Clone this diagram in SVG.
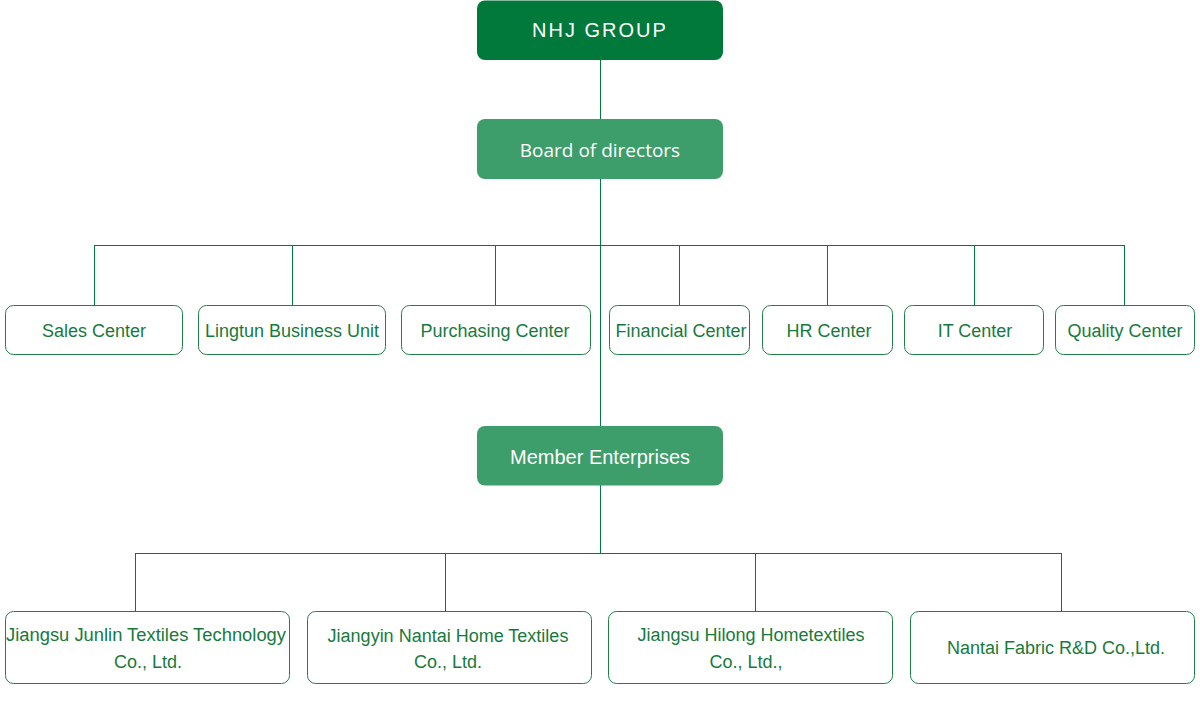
<svg xmlns="http://www.w3.org/2000/svg" width="1200" height="728" viewBox="0 0 1200 728">
<style>
.top{fill:#00793b}
.mid{fill:#3d9d6b}
.box{fill:#fff;stroke:#1f7f47;stroke-width:1}
.lt{font-family:"Liberation Sans",Arial,sans-serif;font-size:18px;fill:#177a3c;text-anchor:middle}
.wt{font-family:"Open Sans","Liberation Sans",sans-serif;font-size:19px;fill:#fff;text-anchor:middle}
.wt2{font-family:"Liberation Sans",Arial,sans-serif;font-size:20px;fill:#fff;text-anchor:middle}
.ln{stroke:#007a3d;stroke-width:1;fill:none}
</style>
<rect width="1200" height="728" fill="#fff"/>
<g id="connectors">
<path class="ln" d="M600.5 60V426M94.5 245.5H1125M94.5 245V305M292.5 245V305M495.5 245V305M679.5 245V305M827.5 245V305M974.5 245V305M1124.5 245V305"/>
<path class="ln" d="M600.5 485V553M135.5 553.5H1062M135.5 553V611M445.5 553V611M755.5 553V611M1061.5 553V611"/>
</g>
<g id="nhj"><rect class="top" x="477" y="0.5" width="246" height="59.5" rx="8"/><text class="wt2" x="600" y="37" letter-spacing="2">NHJ GROUP</text></g>
<g id="board"><rect class="mid" x="477" y="119" width="246" height="60" rx="8"/><text class="wt" x="600" y="157">Board of directors</text></g>
<g id="sales"><rect class="box" x="5.5" y="305.5" width="177" height="49" rx="8"/><text class="lt" x="94" y="337">Sales Center</text></g>
<g id="lingtun"><rect class="box" x="198.5" y="305.5" width="187" height="49" rx="8"/><text class="lt" x="292" y="337">Lingtun Business Unit</text></g>
<g id="purchasing"><rect class="box" x="401.5" y="305.5" width="189" height="49" rx="8"/><text class="lt" x="495" y="337">Purchasing Center</text></g>
<g id="financial"><rect class="box" x="609.5" y="305.5" width="140" height="49" rx="8"/><text class="lt" x="681" y="337">Financial Center</text></g>
<g id="hr"><rect class="box" x="762.5" y="305.5" width="130" height="49" rx="8"/><text class="lt" x="829" y="337">HR Center</text></g>
<g id="it"><rect class="box" x="904.5" y="305.5" width="139" height="49" rx="8"/><text class="lt" x="975" y="337">IT Center</text></g>
<g id="quality"><rect class="box" x="1055.5" y="305.5" width="139" height="49" rx="8"/><text class="lt" x="1125" y="337">Quality Center</text></g>
<g id="member"><rect class="mid" x="477" y="426" width="246" height="59.5" rx="8"/><text class="wt2" x="600" y="464">Member Enterprises</text></g>
<g id="junlin"><rect class="box" x="5.5" y="611.5" width="284" height="72" rx="8"/><text class="lt" x="146" y="641" textLength="280" lengthAdjust="spacingAndGlyphs">Jiangsu Junlin Textiles Technology</text><text class="lt" x="148" y="668">Co., Ltd.</text></g>
<g id="nantai"><rect class="box" x="307.5" y="611.5" width="284" height="72" rx="8"/><text class="lt" x="448" y="642">Jiangyin Nantai Home Textiles</text><text class="lt" x="448" y="668">Co., Ltd.</text></g>
<g id="hilong"><rect class="box" x="608.5" y="611.5" width="284" height="72" rx="8"/><text class="lt" x="751" y="641">Jiangsu Hilong Hometextiles</text><text class="lt" x="746" y="668">Co., Ltd.,</text></g>
<g id="fabric"><rect class="box" x="910.5" y="611.5" width="284" height="72" rx="8"/><text class="lt" x="1056" y="654">Nantai Fabric R&amp;D Co.,Ltd.</text></g>
</svg>
